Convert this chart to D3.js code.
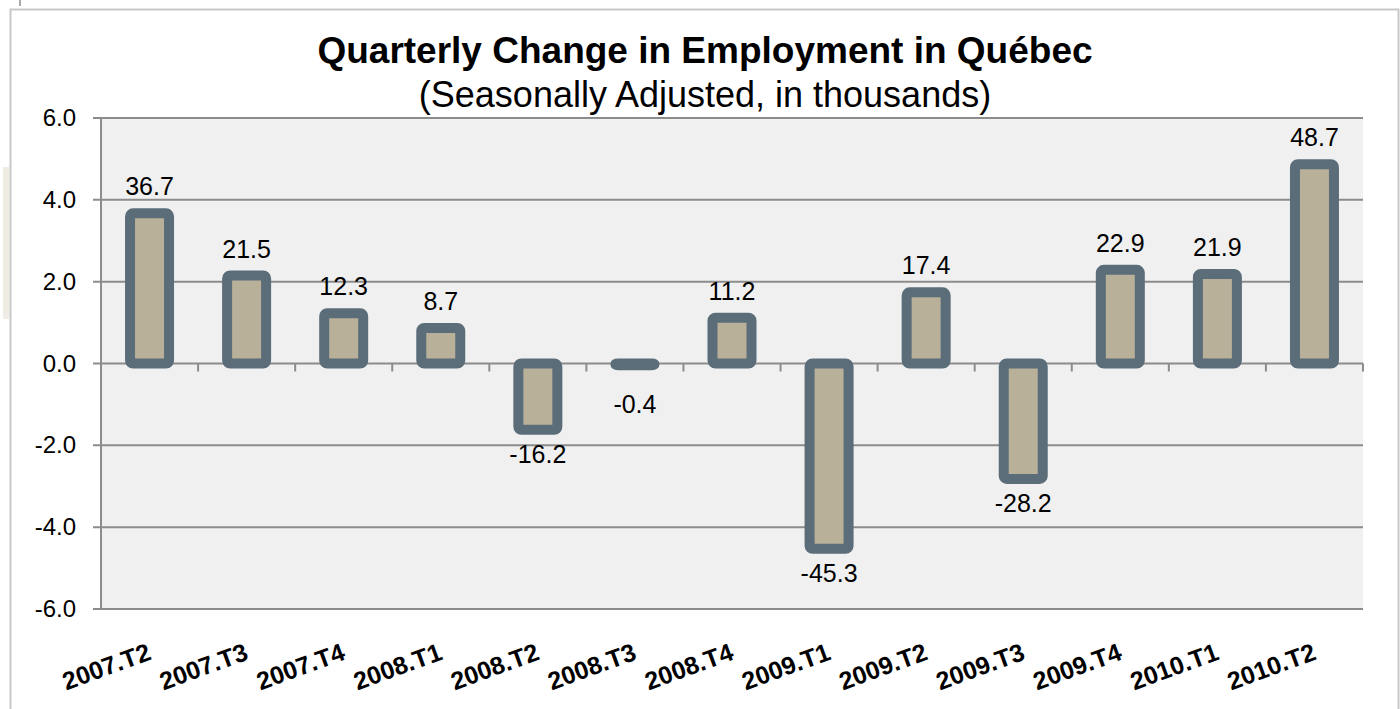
<!DOCTYPE html>
<html><head><meta charset="utf-8">
<script src="https://cdnjs.cloudflare.com/ajax/libs/d3/7.8.5/d3.min.js"></script>
<style>
html,body{margin:0;padding:0;background:#fff;}
svg{display:block;font-family:"Liberation Sans",Arial,sans-serif;}
</style></head>
<body>
<svg id="chart" width="1400" height="709"></svg>
<script>
const categories = ["2007.T2","2007.T3","2007.T4","2008.T1","2008.T2","2008.T3","2008.T4","2009.T1","2009.T2","2009.T3","2009.T4","2010.T1","2010.T2"];
const labelValues = [36.7,21.5,12.3,8.7,-16.2,-0.4,11.2,-45.3,17.4,-28.2,22.9,21.9,48.7];
const barHeights = [3.67,2.15,1.23,0.87,-1.62,-0.04,1.12,-4.53,1.74,-2.82,2.29,2.19,4.87];
const yTicks = [-6,-4,-2,0,2,4,6];
const titleText = "Quarterly Change in Employment in Québec";
const subtitleText = "(Seasonally Adjusted, in thousands)";

const svg = d3.select("#chart");
const plot = {left:101, right:1363, top:118, bottom:609};

// outer frame
svg.append("rect").attr("x",3).attr("y",167).attr("width",6).attr("height",152).attr("fill","#efede3");
svg.append("line").attr("x1",20).attr("x2",20).attr("y1",0).attr("y2",6).attr("stroke","#555").attr("stroke-width",1);
svg.append("path").attr("d","M10.5,709 V9.5 H1398.5 V709").attr("fill","none").attr("stroke","#c8c8c8").attr("stroke-width",2);

const x = d3.scaleBand().domain(categories).range([plot.left, plot.right]).padding(0);
const y = d3.scaleLinear().domain([-6,6]).range([plot.bottom, plot.top]);

// plot background
svg.append("rect").attr("x",plot.left).attr("y",plot.top).attr("width",plot.right-plot.left).attr("height",plot.bottom-plot.top).attr("fill","#f0f0f0");

// gridlines
svg.append("g").selectAll("line").data(yTicks).join("line")
  .attr("x1",plot.left-8).attr("x2",plot.right)
  .attr("y1",d=>y(d)).attr("y2",d=>y(d))
  .attr("stroke","#8c8c8c").attr("stroke-width",2);

// y axis line
svg.append("line").attr("x1",plot.left).attr("x2",plot.left).attr("y1",plot.top).attr("y2",plot.bottom)
  .attr("stroke","#8c8c8c").attr("stroke-width",2);

// y tick labels
svg.append("g").selectAll("text").data(yTicks).join("text")
  .attr("x",76).attr("y",d=>y(d)+8).attr("text-anchor","end")
  .attr("font-size",24).attr("fill","#000")
  .text(d=>d.toFixed(1));

// x ticks at band boundaries on zero line
const bounds = categories.map(c=>x(c)).concat([plot.right]);
svg.append("g").selectAll("line").data(bounds).join("line")
  .attr("x1",d=>d).attr("x2",d=>d).attr("y1",y(0)).attr("y2",y(0)+8)
  .attr("stroke","#8c8c8c").attr("stroke-width",2);

// bars
const bw = 39;
svg.append("g").selectAll("rect").data(barHeights).join("rect")
  .attr("x",(d,i)=>x(categories[i])+x.bandwidth()/2-bw/2)
  .attr("width",bw)
  .attr("y",d=>Math.min(y(d),y(0)))
  .attr("height",d=>Math.abs(y(d)-y(0)))
  .attr("rx",3).attr("ry",3)
  .attr("fill","#b8b098").attr("stroke","#5b6d79").attr("stroke-width",10)
  .attr("stroke-linejoin","round");

// value labels
svg.append("g").selectAll("text").data(labelValues).join("text")
  .attr("x",(d,i)=>x(categories[i])+x.bandwidth()/2)
  .attr("y",(d,i)=>{const h=barHeights[i]; return h>=0 ? y(h)-18 : Math.max(y(h)+33, y(0)+49);})
  .attr("text-anchor","middle").attr("font-size",25).attr("fill","#000")
  .text(d=>d.toFixed(1));

// x labels rotated
svg.append("g").selectAll("text").data(categories).join("text")
  .attr("transform",d=>`translate(${x(d)+x.bandwidth()/2+3},${659}) rotate(-20)`)
  .attr("text-anchor","end").attr("font-size",25).attr("font-weight","bold").attr("fill","#000")
  .text(d=>d);

// titles
svg.append("text").attr("x",705).attr("y",63).attr("text-anchor","middle")
  .attr("font-size",37).attr("font-weight","bold").attr("fill","#000").text(titleText);
svg.append("text").attr("x",705).attr("y",107).attr("text-anchor","middle")
  .attr("font-size",36).attr("fill","#000").text(subtitleText);
</script>
</body></html>
